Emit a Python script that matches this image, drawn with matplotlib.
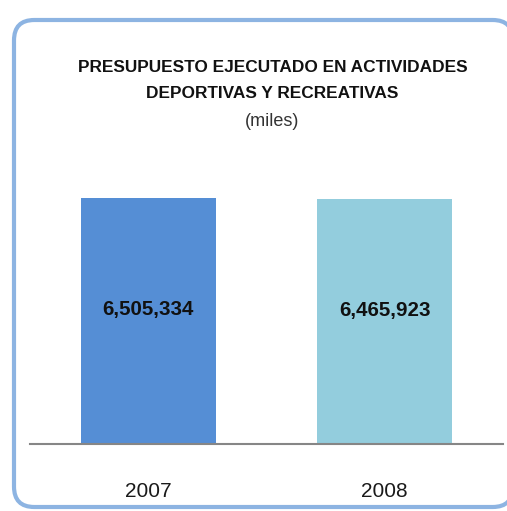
import matplotlib
matplotlib.use("Agg")
import matplotlib.pyplot as plt
from matplotlib.patches import FancyBboxPatch

YEARS = ["2007", "2008"]
VALUES = [6505334, 6465923]
LABELS = ["6,505,334", "6,465,923"]
COLORS = ["#558ED5", "#93CDDD"]
TITLE_LINES = ["PRESUPUESTO EJECUTADO EN ACTIVIDADES", "DEPORTIVAS Y RECREATIVAS"]
SUBTITLE = "(miles)"

FONT = ["Liberation Sans", "DejaVu Sans"]

W, H = 507, 511


def main():
    fig = plt.figure(figsize=(W / 100, H / 100), dpi=100)
    fig.patch.set_facecolor("white")

    # rounded frame around the chart (right side runs off the picture)
    frame = FancyBboxPatch((14 / W, 4 / H), 499 / W, 487 / H,
                           boxstyle="round,pad=0,rounding_size=0.04",
                           transform=fig.transFigure, facecolor="white",
                           edgecolor="#8DB4E2", linewidth=3, zorder=-1)
    fig.patches.append(frame)

    # axes: baseline at y=444px, top at y=140px, x from 30 to 503px
    top_px, base_px = 140, 444
    ax = fig.add_axes([30 / W, (H - base_px) / H, 473 / W, (base_px - top_px) / H])
    ax.set_facecolor("none")
    bar_px = base_px - 198
    ax.set_ylim(0, VALUES[0] * (base_px - top_px) / bar_px)
    ax.set_xlim(-0.5, 1.5)

    x = range(len(VALUES))
    ax.bar(x, VALUES, width=0.572, color=COLORS, zorder=2)
    for i, (v, lab) in enumerate(zip(VALUES, LABELS)):
        ax.text(i, v * 0.545, lab, ha="center", va="center", fontsize=14.8,
                fontweight="bold", family=FONT, color="#111111", zorder=3)

    for s in ["top", "right", "left"]:
        ax.spines[s].set_visible(False)
    ax.spines["bottom"].set_color("#868686")
    ax.spines["bottom"].set_linewidth(1.5)
    ax.set_yticks([])
    ax.set_xticks(list(x))
    ax.set_xticklabels(YEARS, family=FONT, fontsize=15, color="#1a1a1a")
    ax.tick_params(axis="x", length=0, pad=27)

    fig.text(272.5 / W, 1 - 68 / H, TITLE_LINES[0], ha="center", va="center",
             fontsize=12.4, fontweight="bold", family=FONT, color="#111111")
    fig.text(272.5 / W, 1 - 94 / H, TITLE_LINES[1], ha="center", va="center",
             fontsize=12.4, fontweight="bold", family=FONT, color="#111111")
    fig.text(272.5 / W, 1 - 121 / H, SUBTITLE, ha="center", va="center",
             fontsize=13, family=FONT, color="#333333")

    fig.savefig("out.png", dpi=100)


if __name__ == "__main__":
    main()
